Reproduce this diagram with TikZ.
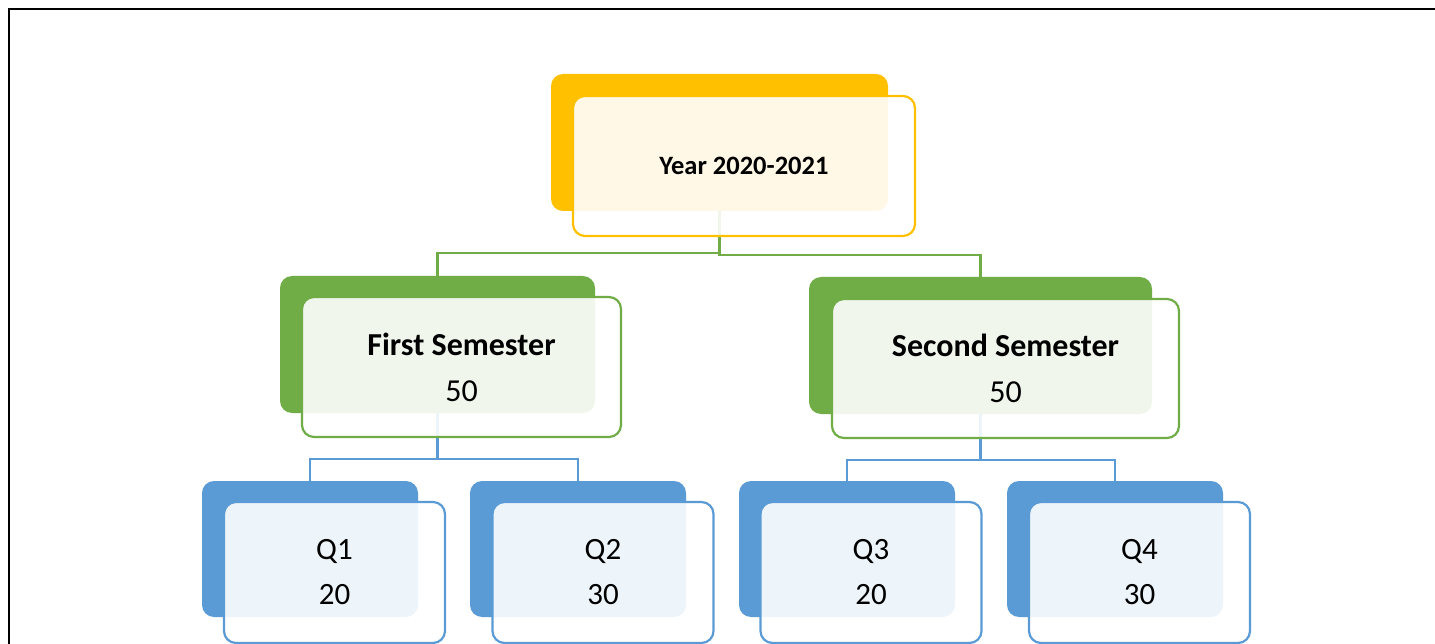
\documentclass[tikz,border=0pt]{standalone}
\usepackage{fontspec}
\setmainfont{Carlito}
\definecolor{cyel}{HTML}{FFC000}
\definecolor{cgrn}{HTML}{70AD47}
\definecolor{cblu}{HTML}{5B9BD5}
\tikzset{
  back/.style={fill=#1, draw=none, rounded corners=12pt, inner sep=0pt},
  front/.style={fill=white, fill opacity=0.9, text opacity=1, draw=#1, draw opacity=1,
                line width=2.2pt, rounded corners=12pt, inner sep=0pt, align=center},
  conn/.style={draw=#1, line width=2.2pt},
  yeartxt/.style={font=\bfseries\fontsize{26.5}{30}\selectfont},
  semtxt/.style={font=\fontsize{32}{46}\selectfont},
  qtxt/.style={font=\fontsize{31}{45}\selectfont},
}
\begin{document}
\begin{tikzpicture}[x=1pt,y=-1pt]
\useasboundingbox (0,0) rectangle (1435,644);
\fill[white] (0,0) rectangle (1435,644);
\draw[line width=2pt] (8.5,644) -- (8.5,9) -- (1435,9);

% back rectangles
\node[back=cyel, minimum width=337pt, minimum height=137pt] (yb) at (719.5,142.5) {};
\node[back=cgrn, minimum width=315pt, minimum height=137pt] (s1b) at (437.5,344.5) {};
\node[back=cgrn, minimum width=343pt, minimum height=137pt] (s2b) at (980.5,345.5) {};
\node[back=cblu, minimum width=216pt, minimum height=136pt] (q1b) at (310,549) {};
\node[back=cblu, minimum width=216pt, minimum height=136pt] (q2b) at (578,549) {};
\node[back=cblu, minimum width=216pt, minimum height=136pt] (q3b) at (847,549) {};
\node[back=cblu, minimum width=216pt, minimum height=136pt] (q4b) at (1115,549) {};

% connectors
\draw[conn=cgrn] (yb.south) -- ++(0,42) -| (s1b.north);
\draw[conn=cgrn] (yb.south) -- ++(0,44) -| (s2b.north);
\draw[conn=cblu] (s1b.south) -- ++(0,46) -| (q1b.north);
\draw[conn=cblu] (s1b.south) -- ++(0,46) -| (q2b.north);
\draw[conn=cblu] (s2b.south) -- ++(0,46) -| (q3b.north);
\draw[conn=cblu] (s2b.south) -- ++(0,46) -| (q4b.north);

% front rectangles
\node[front=cyel, yeartxt, minimum width=342pt, minimum height=140pt] (yf) at (744,166) {Year 2020-2021};
\node[front=cgrn, semtxt, minimum width=319pt, minimum height=140pt] (s1f) at (461.5,367) {\textbf{First Semester}\\50};
\node[front=cgrn, semtxt, minimum width=347pt, minimum height=139pt] (s2f) at (1005.5,368.5) {\textbf{Second Semester}\\50};
\node[front=cblu, qtxt, minimum width=221pt, minimum height=141pt] (q1f) at (334.5,572.5) {Q1\\20};
\node[front=cblu, qtxt, minimum width=221pt, minimum height=141pt] (q2f) at (603,572.5) {Q2\\30};
\node[front=cblu, qtxt, minimum width=221pt, minimum height=141pt] (q3f) at (871,572.5) {Q3\\20};
\node[front=cblu, qtxt, minimum width=221pt, minimum height=141pt] (q4f) at (1139.5,572.5) {Q4\\30};
\end{tikzpicture}
\end{document}
